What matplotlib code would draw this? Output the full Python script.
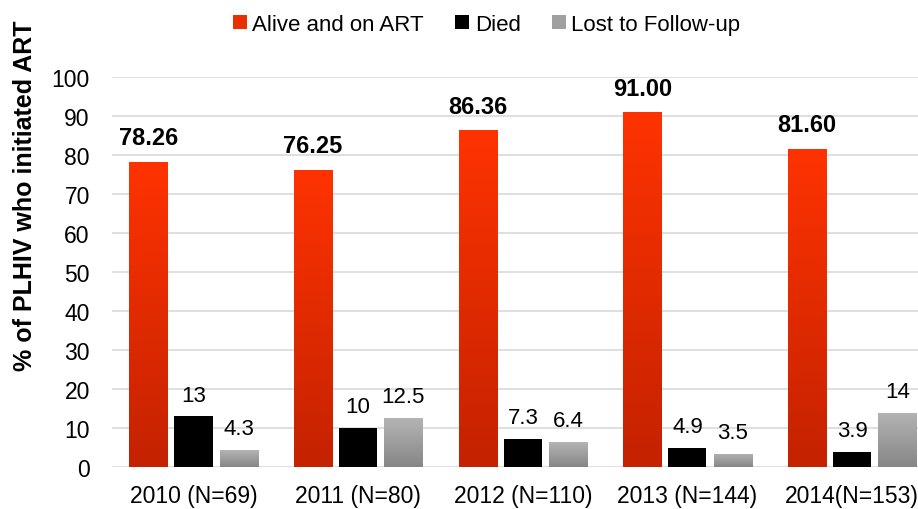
import numpy as np
import matplotlib.pyplot as plt
from matplotlib.colors import LinearSegmentedColormap
from matplotlib.patches import Patch

years = ["2010 (N=69)", "2011 (N=80)", "2012 (N=110)", "2013 (N=144)", "2014(N=153)"]
alive = [78.26, 76.25, 86.36, 91.00, 81.60]
died = [13, 10, 7.3, 4.9, 3.9]
lost = [4.3, 12.5, 6.4, 3.5, 14]

alive_labels = ["78.26", "76.25", "86.36", "91.00", "81.60"]
died_labels = ["13", "10", "7.3", "4.9", "3.9"]
lost_labels = ["4.3", "12.5", "6.4", "3.5", "14"]

plt.rcParams["font.family"] = ["Liberation Sans", "DejaVu Sans"]

fig = plt.figure(figsize=(9.18, 5.10), dpi=100)
ax = fig.add_axes([0.122, 0.082, 0.878, 0.765])

x = np.arange(len(years))
w = 0.231
off = 0.274

red_cmap = LinearSegmentedColormap.from_list("red", ["#C42200", "#FF3300"])
gray_cmap = LinearSegmentedColormap.from_list("gray", ["#868686", "#B4B4B4"])


def gradient_bars(xs, vals, cmap):
    bars = ax.bar(xs, vals, width=w, color="none", edgecolor="none", zorder=3)
    grad = np.linspace(0, 1, 256).reshape(-1, 1)
    for b in bars:
        x0, y0 = b.get_x(), b.get_y()
        x1, y1 = x0 + b.get_width(), y0 + b.get_height()
        im = ax.imshow(grad, cmap=cmap, origin="lower", aspect="auto",
                       extent=[x0, x1, y0, y1], zorder=3)
        im.set_clip_path(b)
    return bars


gradient_bars(x - off, alive, red_cmap)
ax.bar(x, died, width=w, color="black", zorder=3)
gradient_bars(x + off, lost, gray_cmap)

for i in range(len(years)):
    ax.text(x[i] - off, alive[i] + 3.2, alive_labels[i], ha="center", va="bottom",
            fontsize=17, fontweight="bold")
    ax.text(x[i], died[i] + 2.8, died_labels[i], ha="center", va="bottom", fontsize=16)
    ax.text(x[i] + off, lost[i] + 2.8, lost_labels[i], ha="center", va="bottom", fontsize=16)

ax.set_xlim(-0.495, 4.40)
ax.set_ylim(0, 100)
ax.set_yticks(range(0, 101, 10))
ax.set_xticks(x)
ax.set_xticklabels(years, fontsize=16.5)
ax.tick_params(axis="y", labelsize=16.5, length=0, pad=16)
ax.tick_params(axis="x", length=0, pad=12)
ax.grid(axis="y", color="#D9D9D9", linewidth=1.2, zorder=0)
for s in ax.spines.values():
    s.set_visible(False)
ax.set_ylabel("% of PLHIV who initiated ART", fontsize=18, fontweight="bold")
ax.yaxis.set_label_coords(-0.093, 0.697)

handles = [Patch(facecolor="#E83000"), Patch(facecolor="black"), Patch(facecolor="#A0A0A0")]
fig.legend(handles, ["Alive and on ART", "Died", "Lost to Follow-up"],
           loc="center", bbox_to_anchor=(0.53, 0.95), ncol=3, frameon=False,
           fontsize=16, handlelength=0.63, handleheight=0.63, handletextpad=0.25,
           columnspacing=1.4)

fig.savefig("out.png", dpi=100)
